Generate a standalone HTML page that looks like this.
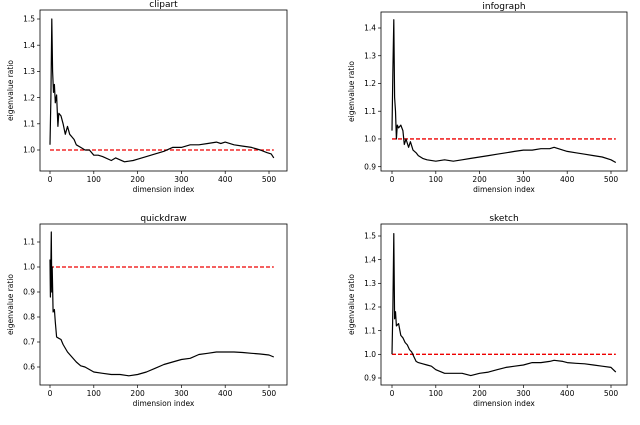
<!DOCTYPE html>
<html><head><meta charset="utf-8"><style>
body{margin:0;background:#fff;width:640px;height:425px;overflow:hidden}
svg{display:block;font-family:"DejaVu Sans","Liberation Sans",sans-serif}
</style></head>
<body>
<svg id="fig" width="640" height="425" viewBox="0 0 640 425"></svg>
<script>
const titles = ["clipart","infograph","quickdraw","sketch"];
const clipartX = [0,2,4,6,8,10,12,15,18,20,25,30,35,40,45,50,55,60,70,80,90,100,110,120,140,150,170,190,200,220,240,260,280,300,320,340,360,380,390,400,420,440,460,480,495,505,511];
const clipartY = [1.02,1.20,1.50,1.30,1.22,1.25,1.18,1.21,1.09,1.14,1.13,1.10,1.06,1.09,1.06,1.05,1.04,1.02,1.01,1.00,1.00,0.98,0.98,0.975,0.96,0.97,0.955,0.96,0.965,0.975,0.985,0.995,1.01,1.01,1.02,1.02,1.025,1.03,1.025,1.03,1.02,1.015,1.01,1.0,0.99,0.985,0.97];
const infoX = [0,2,4,6,8,10,12,15,20,25,28,32,38,42,48,55,60,70,80,100,120,140,160,180,200,220,240,260,280,300,320,340,360,370,390,400,420,440,460,480,500,511];
const infoY = [1.03,1.25,1.43,1.15,1.10,1.00,1.05,1.04,1.05,1.03,0.98,1.00,0.97,0.99,0.96,0.95,0.94,0.93,0.925,0.92,0.925,0.92,0.925,0.93,0.935,0.94,0.945,0.95,0.955,0.96,0.96,0.965,0.965,0.97,0.96,0.955,0.95,0.945,0.94,0.935,0.925,0.915];
const quickX = [0,1,2,3,4,5,7,10,12,15,20,25,30,40,50,60,70,80,90,100,120,140,160,180,200,220,240,260,280,300,320,340,360,380,400,420,440,460,480,500,511];
const quickY = [1.03,0.88,1.02,1.14,0.90,1.00,0.82,0.83,0.78,0.72,0.715,0.71,0.69,0.66,0.64,0.62,0.605,0.60,0.59,0.58,0.575,0.57,0.57,0.565,0.57,0.58,0.595,0.61,0.62,0.63,0.635,0.65,0.655,0.66,0.66,0.66,0.658,0.655,0.652,0.648,0.64];
const sketchX = [0,2,4,6,8,10,15,20,25,30,35,40,45,50,55,60,70,80,90,100,120,140,160,180,200,220,240,260,280,300,320,340,360,370,390,400,420,440,460,480,500,511];
const sketchY = [1.0,1.2,1.51,1.15,1.18,1.12,1.13,1.08,1.07,1.05,1.04,1.02,1.01,0.99,0.97,0.965,0.96,0.955,0.95,0.935,0.92,0.92,0.92,0.91,0.92,0.925,0.935,0.945,0.95,0.955,0.965,0.965,0.97,0.975,0.97,0.965,0.962,0.96,0.955,0.95,0.945,0.925];
const xTicks = [0,100,200,300,400,500];
const clipartTicks = [1.0,1.1,1.2,1.3,1.4,1.5];
const infoTicks = [0.9,1.0,1.1,1.2,1.3,1.4];
const quickTicks = [0.6,0.7,0.8,0.9,1.0,1.1];
const sketchTicks = [0.9,1.0,1.1,1.2,1.3,1.4,1.5];
const refValue = 1.0;

const panels = [
 {x:clipartX,y:clipartY,t:clipartTicks,box:[40,10,287,171],x0:50,x5:269,v0:1.0,p0:150,v1:1.5,p1:19},
 {x:infoX,y:infoY,t:infoTicks,box:[381,12,627,171],x0:392,x5:611,v0:0.9,p0:166.7,v1:1.4,p1:28},
 {x:quickX,y:quickY,t:quickTicks,box:[40,224,287,385],x0:50,x5:269,v0:0.6,p0:367,v1:1.1,p1:242},
 {x:sketchX,y:sketchY,t:sketchTicks,box:[381,224,627,385],x0:392,x5:611,v0:0.9,p0:378,v1:1.5,p1:236}
];
const NS="http://www.w3.org/2000/svg";
const fig=document.getElementById('fig');
function mk(tag,attrs,parent){const e=document.createElementNS(NS,tag);for(const k in attrs)e.setAttribute(k,attrs[k]);parent.appendChild(e);return e;}
panels.forEach((p,i)=>{
 const g=mk('g',{},fig);
 
 
 const sx=v=>p.x0+(v/500)*(p.x5-p.x0);
 const sy=v=>p.p0+(v-p.v0)/(p.v1-p.v0)*(p.p1-p.p0);
 const [l,t,r,b]=p.box;
 const ttl=mk('text',{x:(l+r)/2,y:t-3,'text-anchor':'middle','font-size':'9'},g);ttl.textContent=titles[i];
 
 
 xTicks.forEach(v=>{const X=sx(v);mk('line',{x1:X,x2:X,y1:b,y2:b+3,stroke:'#000','stroke-width':0.7},g);
  const tx=mk('text',{x:X,y:b+11,'text-anchor':'middle','font-size':'7.5'},g);tx.textContent=v;
  
  });
 p.t.forEach(v=>{const Y=sy(v);mk('line',{x1:l-3,x2:l,y1:Y,y2:Y,stroke:'#000','stroke-width':0.7},g);
  const tx=mk('text',{x:l-5,y:Y+2.7,'text-anchor':'end','font-size':'7.5'},g);tx.textContent=v.toFixed(1);
  
  });
 const xl=mk('text',{x:(l+r)/2,y:b+21,'text-anchor':'middle','font-size':'7.5'},g);xl.textContent='dimension index';
 
 
 const yc=(t+b)/2;
 const yl=mk('text',{x:l-27,y:yc,'text-anchor':'middle','font-size':'7.5',transform:`rotate(-90 ${l-27} ${yc})`},g);yl.textContent='eigenvalue ratio';
 
 
 const ref=mk('line',{x1:sx(0),x2:sx(511),y1:sy(refValue),y2:sy(refValue),stroke:'#e00',    'stroke-width':1.3,'stroke-dasharray':'4,2'},g);
 
 
 const pts=p.x.map((xv,k)=>sx(xv).toFixed(1)+','+sy(p.y[k]).toFixed(1)).join(' ');
 const ln=mk('polyline',{points:pts,fill:'none',stroke:'#000','stroke-width':1.2,'stroke-linejoin':'round'},g);
 
 
 const fr=mk('rect',{x:l,y:t,width:r-l,height:b-t,fill:'none',stroke:'#000','stroke-width':0.8},g);
 
 
});
</script>
</body></html>
